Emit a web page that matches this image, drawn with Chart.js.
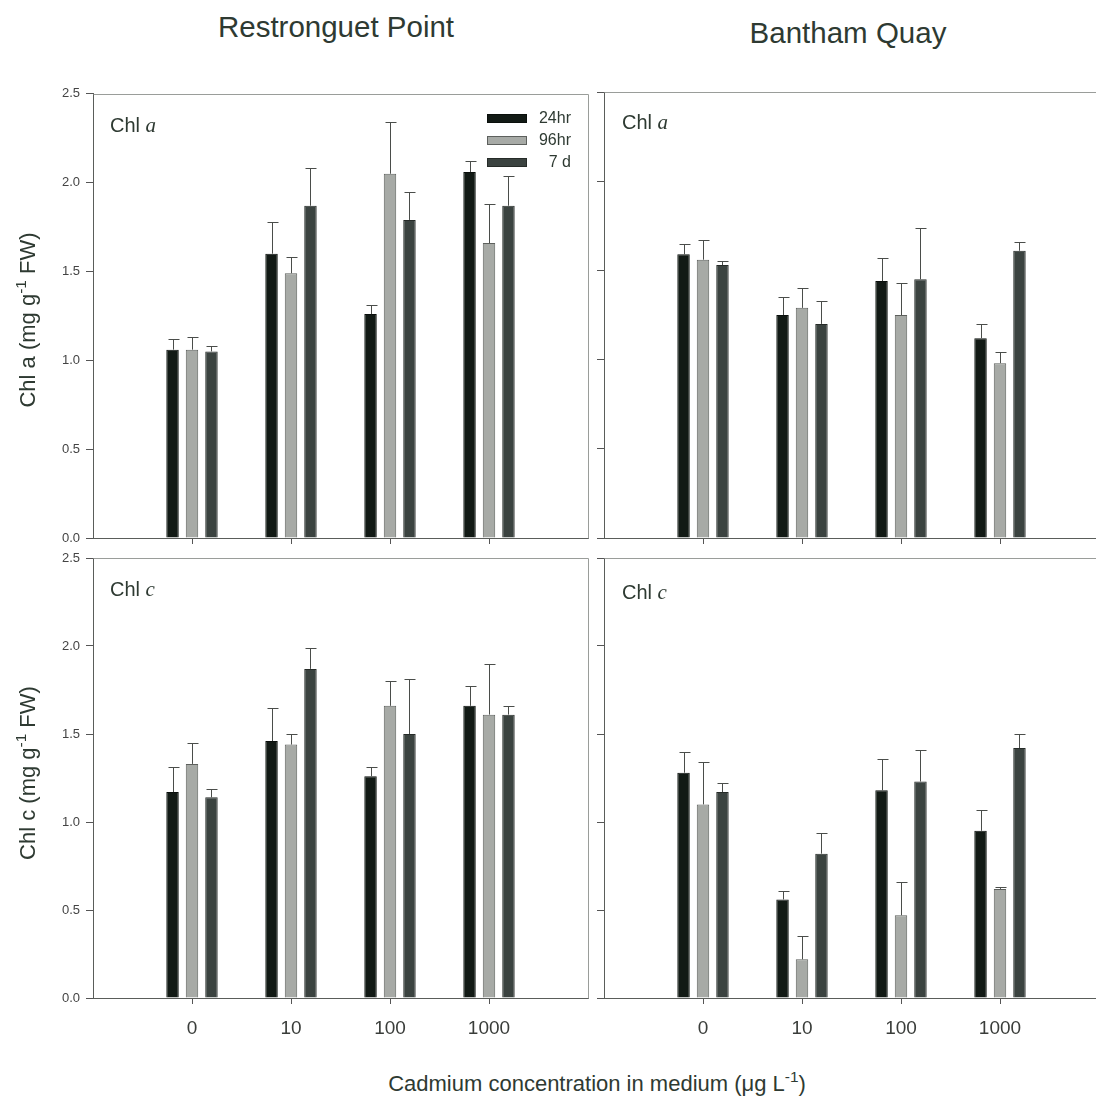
<!DOCTYPE html>
<html>
<head>
<meta charset="utf-8">
<script src="https://cdn.jsdelivr.net/npm/chart.js@4.4.1/dist/chart.umd.min.js"></script>
<style>
  html, body { margin: 0; padding: 0; background: #fff; }
  body { width: 1096px; height: 1098px; overflow: hidden; position: relative;
         font-family: "Liberation Sans", Arial, sans-serif; color: #2e3a32; }
  canvas { position: absolute; }
  .t { position: absolute; white-space: nowrap; transform: translate(-50%, -50%); }
  .title { font-size: 29.5px; color: #2e3a32; }
  .axt { font-size: 22px; color: #2e3a32; }
  .ytl { transform: translate(-50%, -50%) rotate(-90deg); }
  .pl { position: absolute; white-space: nowrap; font-size: 20px; color: #2e3a32; transform: translateY(-50%); }
  .pl i { font-family: "Liberation Serif", "Times New Roman", serif; font-size: 21px; }
  sup { font-size: 0.7em; line-height: 0; vertical-align: 0.6em; }
  #legend { position: absolute; left: 487px; top: 107px; font-size: 16px; color: #2e3a32; }
  #legend .row { position: relative; height: 22px; width: 84px; }
  #legend .sw { position: absolute; left: 0; top: 7px; width: 40px; height: 9px; box-sizing: border-box; border: 1px solid; }
  #legend .lb { position: absolute; right: 0; top: 2px; }
</style>
</head>
<body>
<canvas id="rpA" width="600" height="480" style="left:0;top:80px"></canvas>
<canvas id="bqA" width="510" height="480" style="left:595px;top:80px"></canvas>
<canvas id="rpC" width="600" height="520" style="left:0;top:540px"></canvas>
<canvas id="bqC" width="510" height="520" style="left:595px;top:540px"></canvas>

<div class="t title" style="left:336px;top:27px">Restronguet Point</div>
<div class="t title" style="left:848px;top:33px">Bantham Quay</div>
<div class="t axt ytl" style="left:28px;top:320px">Chl a (mg g<sup>-1</sup> FW)</div>
<div class="t axt ytl" style="left:28px;top:773px">Chl c (mg g<sup>-1</sup> FW)</div>
<div class="t axt" style="left:597px;top:1084px">Cadmium concentration in medium (μg L<sup>-1</sup>)</div>
<div class="pl" style="left:110px;top:125px">Chl <i>a</i></div>
<div class="pl" style="left:622px;top:122px">Chl <i>a</i></div>
<div class="pl" style="left:110px;top:589px">Chl <i>c</i></div>
<div class="pl" style="left:622px;top:592px">Chl <i>c</i></div>
<div id="legend"></div>

<script>
// Cadmium treatments (x categories) and exposure times (series)
const categories = ['0', '10', '100', '1000'];
const seriesNames = ['24hr', '96hr', '7 d'];
const yTicks = [0, 0.5, 1.0, 1.5, 2.0, 2.5];

// Restronguet Point, Chl a (means and standard errors)
const rpChlA_24hr = [1.06, 1.60, 1.26, 2.06];
const rpChlA_96hr = [1.06, 1.49, 2.05, 1.66];
const rpChlA_7d   = [1.05, 1.87, 1.79, 1.87];
const rpChlA_24hrSE = [0.06, 0.18, 0.05, 0.06];
const rpChlA_96hrSE = [0.07, 0.09, 0.29, 0.22];
const rpChlA_7dSE   = [0.03, 0.21, 0.16, 0.17];

// Bantham Quay, Chl a
const bqChlA_24hr = [1.59, 1.25, 1.44, 1.12];
const bqChlA_96hr = [1.56, 1.29, 1.25, 0.98];
const bqChlA_7d   = [1.53, 1.20, 1.45, 1.61];
const bqChlA_24hrSE = [0.06, 0.10, 0.13, 0.08];
const bqChlA_96hrSE = [0.11, 0.11, 0.18, 0.06];
const bqChlA_7dSE   = [0.02, 0.13, 0.29, 0.05];

// Restronguet Point, Chl c
const rpChlC_24hr = [1.17, 1.46, 1.26, 1.66];
const rpChlC_96hr = [1.33, 1.44, 1.66, 1.61];
const rpChlC_7d   = [1.14, 1.87, 1.50, 1.61];
const rpChlC_24hrSE = [0.14, 0.19, 0.05, 0.11];
const rpChlC_96hrSE = [0.12, 0.06, 0.14, 0.29];
const rpChlC_7dSE   = [0.05, 0.12, 0.31, 0.05];

// Bantham Quay, Chl c
const bqChlC_24hr = [1.28, 0.56, 1.18, 0.95];
const bqChlC_96hr = [1.10, 0.22, 0.47, 0.62];
const bqChlC_7d   = [1.17, 0.82, 1.23, 1.42];
const bqChlC_24hrSE = [0.12, 0.05, 0.18, 0.12];
const bqChlC_96hrSE = [0.24, 0.13, 0.19, 0.01];
const bqChlC_7dSE   = [0.05, 0.12, 0.18, 0.08];

const fills   = ['#121a15', '#a7aaa6', '#3b4340'];
const borders = ['#0a0f0c', '#5d605d', '#262b28'];

// blank slots either side so the four groups sit one step in from each edge
const paddedLabels = ['', ...categories, ''];
const pad = arr => [null, ...arr, null];

// upward-only error bars drawn from each bar's top
const errorBars = {
  id: 'errorBars',
  afterDatasetsDraw(chart) {
    const ctx = chart.ctx, ys = chart.scales.y;
    ctx.save();
    ctx.strokeStyle = '#4a4d4a';
    ctx.lineWidth = 1;
    chart.data.datasets.forEach((ds, di) => {
      const meta = chart.getDatasetMeta(di);
      meta.data.forEach((bar, i) => {
        const v = ds.data[i];
        if (v == null) return;
        const top = Math.round(ys.getPixelForValue(v + ds.errors[i])) + 0.5;
        const x = Math.round(bar.x) + 0.5;
        ctx.beginPath();
        ctx.moveTo(x, bar.y);
        ctx.lineTo(x, top);
        ctx.moveTo(x - 5, top);
        ctx.lineTo(x + 6, top);
        ctx.stroke();
      });
    });
    ctx.restore();
  }
};

// light frame round the plotting area
const frame = {
  id: 'frame',
  beforeDatasetsDraw(chart) {
    const { ctx, chartArea: a } = chart;
    ctx.save();
    ctx.strokeStyle = '#9a9d9a';
    ctx.lineWidth = 1;
    ctx.beginPath();
    ctx.moveTo(Math.round(a.left) + 0.5, Math.round(a.top) + 0.5);
    ctx.lineTo(Math.round(a.right) + 0.5, Math.round(a.top) + 0.5);
    ctx.lineTo(Math.round(a.right) + 0.5, Math.round(a.bottom) + 0.5);
    ctx.stroke();
    ctx.restore();
  }
};

function makePanel(id, values, errors, o) {
  return new Chart(document.getElementById(id), {
    type: 'bar',
    data: {
      labels: paddedLabels,
      datasets: values.map((vals, k) => ({
        label: seriesNames[k],
        data: pad(vals),
        errors: pad(errors[k]),
        backgroundColor: fills[k],
        borderColor: borders[k],
        borderWidth: 1,
        categoryPercentage: 0.59,
        barPercentage: 0.64
      }))
    },
    options: {
      responsive: false,
      animation: false,
      devicePixelRatio: 1,
      layout: { padding: { left: 0, right: o.padRight, top: o.padTop, bottom: 0 } },
      plugins: { legend: { display: false }, tooltip: { enabled: false } },
      scales: {
        x: {
          type: 'category',
          offset: false,
          grid: {
            offset: false,
            drawOnChartArea: false,
            drawTicks: true,
            tickLength: 6,
            tickColor: c => (paddedLabels[c.index] ? '#555' : 'rgba(0,0,0,0)')
          },
          border: { display: true, color: '#5a5d5a', width: 1 },
          ticks: {
            display: o.xLabels,
            autoSkip: false,
            maxRotation: 0,
            padding: 13,
            color: '#3a3d3a',
            font: { family: '"Liberation Sans", Arial, sans-serif', size: 19 }
          },
          afterFit: s => { s.height = o.xAxisH; s.paddingLeft = 0; s.paddingRight = 0; }
        },
        y: {
          min: 0, max: 2.5,
          afterBuildTicks: s => { s.ticks = yTicks.map(v => ({ value: v })); },
          grid: { drawOnChartArea: false, drawTicks: true, tickLength: 7, tickColor: '#555' },
          border: { display: true, color: '#5a5d5a', width: 1 },
          ticks: {
            display: o.yLabels,
            padding: 6,
            color: '#444',
            font: { family: '"Liberation Sans", Arial, sans-serif', size: 13 },
            callback: v => Number(v).toFixed(1)
          },
          afterFit: s => { s.width = o.yAxisW; }
        }
      }
    },
    plugins: [frame, errorBars]
  });
}

makePanel('rpA',
  [rpChlA_24hr, rpChlA_96hr, rpChlA_7d], [rpChlA_24hrSE, rpChlA_96hrSE, rpChlA_7dSE],
  { yLabels: true, xLabels: false, yAxisW: 93, xAxisH: 22, padTop: 12, padRight: 12 });
makePanel('bqA',
  [bqChlA_24hr, bqChlA_96hr, bqChlA_7d], [bqChlA_24hrSE, bqChlA_96hrSE, bqChlA_7dSE],
  { yLabels: false, xLabels: false, yAxisW: 9, xAxisH: 22, padTop: 12, padRight: 6 });
makePanel('rpC',
  [rpChlC_24hr, rpChlC_96hr, rpChlC_7d], [rpChlC_24hrSE, rpChlC_96hrSE, rpChlC_7dSE],
  { yLabels: true, xLabels: true, yAxisW: 93, xAxisH: 62, padTop: 18, padRight: 12 });
makePanel('bqC',
  [bqChlC_24hr, bqChlC_96hr, bqChlC_7d], [bqChlC_24hrSE, bqChlC_96hrSE, bqChlC_7dSE],
  { yLabels: false, xLabels: true, yAxisW: 9, xAxisH: 62, padTop: 18, padRight: 6 });

// legend built from the series styling
const legend = document.getElementById('legend');
seriesNames.forEach((name, k) => {
  const row = document.createElement('div');
  row.className = 'row';
  row.innerHTML = '<span class="sw" style="background:' + fills[k] + ';border-color:' + borders[k] +
    '"></span><span class="lb">' + name + '</span>';
  legend.appendChild(row);
});
</script>
</body>
</html>
